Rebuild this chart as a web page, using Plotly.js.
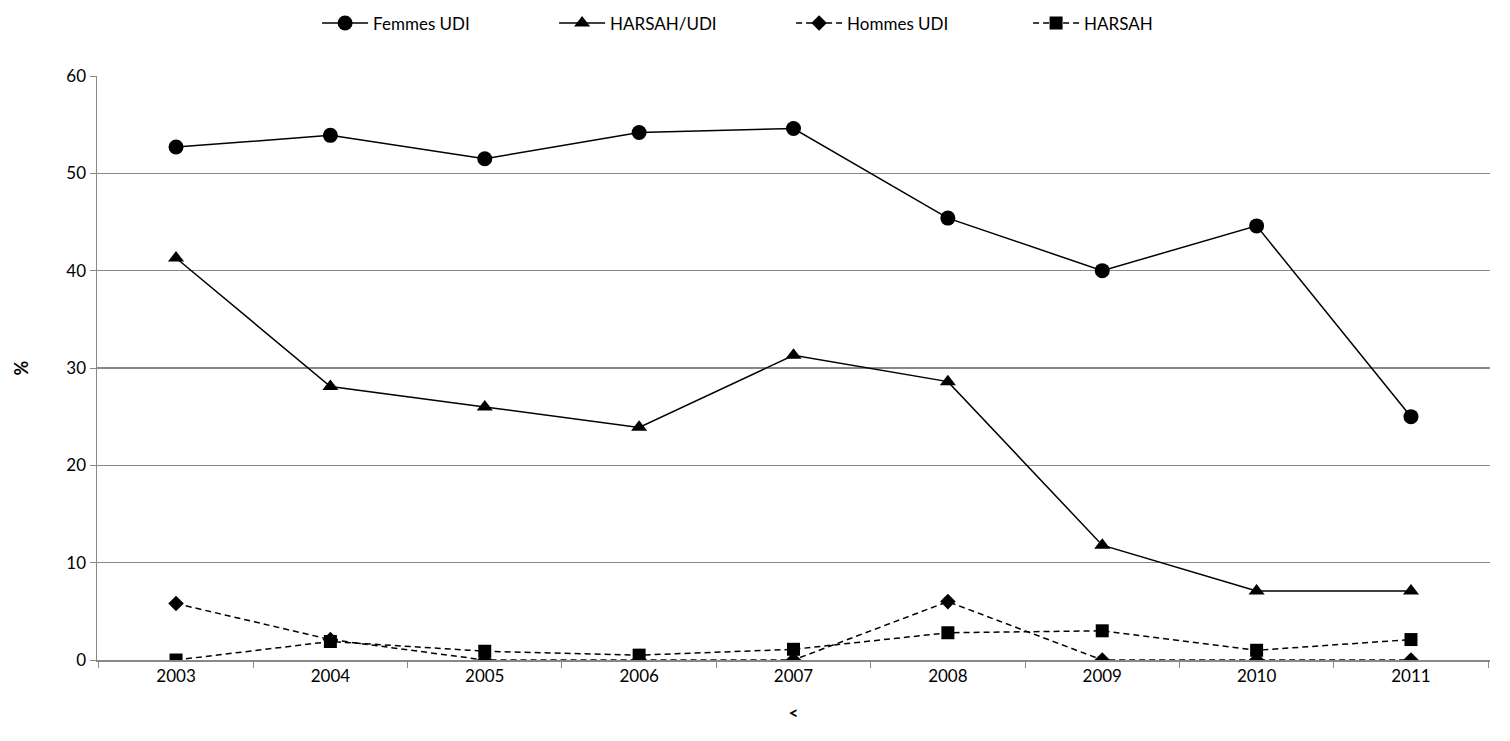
<!DOCTYPE html>
<html><head><meta charset="utf-8">
<script src="https://cdn.plot.ly/plotly-3.0.1.min.js"></script>
<style>html,body{margin:0;padding:0;background:#fff}#c{width:1510px;height:741px}</style>
</head><body><div id="c"></div>
<script>
const years = ['2003','2004','2005','2006','2007','2008','2009','2010','2011'];
const femmesUDI = [52.7, 53.9, 51.5, 54.2, 54.6, 45.4, 40.0, 44.6, 25.0];
const harsahUDI = [41.3, 28.1, 26.0, 23.9, 31.3, 28.6, 11.8, 7.1, 7.1];
const hommesUDI = [5.8, 2.1, 0, 0, 0, 6.0, 0, 0, 0];
const harsah = [0, 1.9, 0.9, 0.5, 1.1, 2.8, 3.0, 1.0, 2.1];

const mk = (name, y, dash, symbol, size) => ({
  x: years, y: y, name: name, type: 'scatter', mode: 'lines+markers',
  line: {color: '#000', width: 1.5, dash: dash},
  marker: {color: '#000', symbol: symbol, size: size}
});
const data = [
  mk('Femmes UDI', femmesUDI, 'solid', 'circle', 15),
  mk('HARSAH/UDI', harsahUDI, 'solid', 'triangle-up', 14),
  mk('Hommes UDI', hommesUDI, '6px,4px', 'diamond', 12),
  mk('HARSAH', harsah, '6px,4px', 'square', 13)
];
const font = {family: 'Lato, Open Sans, sans-serif', size: 17, color: '#000'};
const layout = {
  width: 1510, height: 741,
  margin: {l: 97, r: 20, t: 76, b: 81, autoexpand: false},
  paper_bgcolor: '#fff', plot_bgcolor: '#fff',
  font: font,
  showlegend: true,
  legend: {orientation: 'h', x: 0.158, xanchor: 'left', y: 1.09, yanchor: 'middle', font: font,
           entrywidth: 176, entrywidthmode: 'pixels', itemwidth: 46},
  xaxis: {
    type: 'category', tickson: 'boundaries', ticks: 'outside', ticklen: 6, tickcolor: '#888',
    showline: true, linecolor: '#888', linewidth: 1.5, showgrid: false, zeroline: false,
    tickfont: font, automargin: false,
    title: {text: '<b><</b>', font: font, standoff: 22}
  },
  yaxis: {
    range: [0, 60], dtick: 10, ticks: 'outside', ticklen: 6, tickcolor: '#888',
    showline: true, linecolor: '#888', linewidth: 1.5,
    showgrid: true, gridcolor: '#888', gridwidth: 1.3, zeroline: false,
    tickfont: font, automargin: false,
    title: {text: '<b>%</b>', font: {family: font.family, size: 18, color: '#000'}, standoff: 33}
  }
};
Plotly.newPlot('c', data, layout, {displayModeBar: false, staticPlot: true});
</script>
</body></html>
